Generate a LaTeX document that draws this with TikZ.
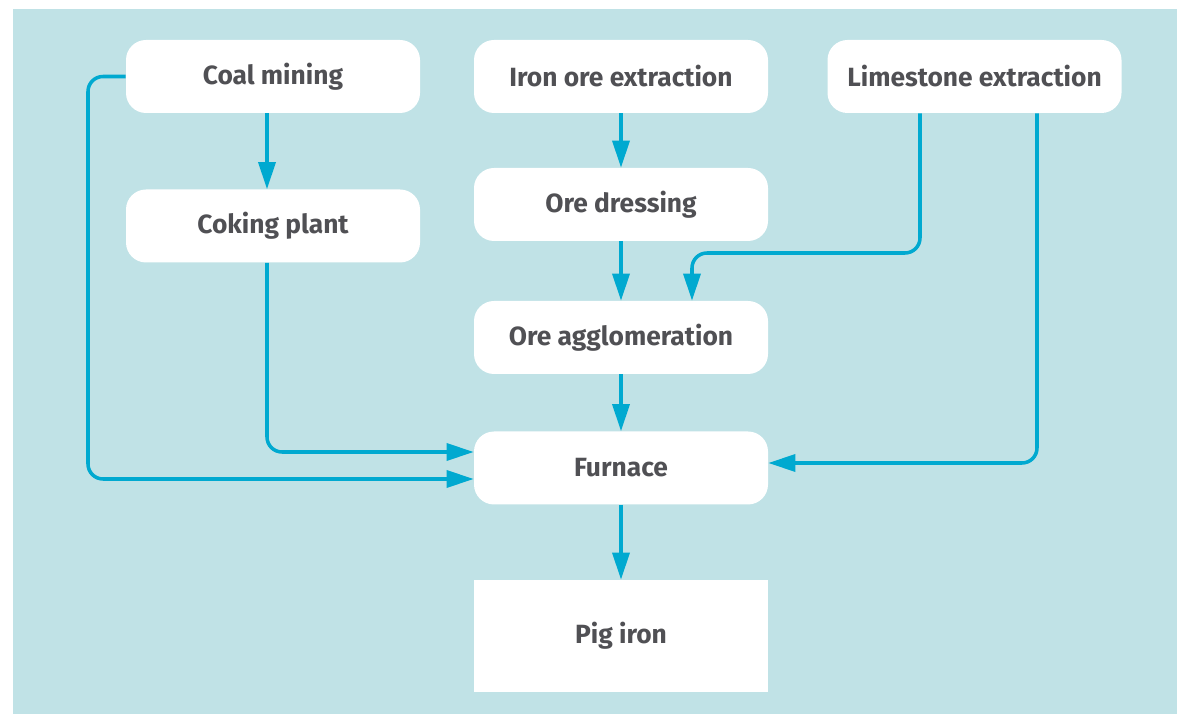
\documentclass[tikz,border=0pt]{standalone}
\usepackage{fontspec}
\setmainfont{Fira Sans}
\usetikzlibrary{arrows.meta,calc,positioning}
\definecolor{PanelTeal}{RGB}{192,226,230}
\definecolor{FlowCyan}{RGB}{0,169,208}
\definecolor{LabelGray}{RGB}{80,80,84}

\tikzset{
  stage/.style={fill=white, rounded corners=0.4cm, minimum width=5.88cm, minimum height=1.46cm,
    text=LabelGray, font=\fontsize{15}{17}\selectfont\bfseries},
  product/.style={stage, rounded corners=0pt, minimum height=2.24cm},
  flow/.style={-{Triangle[length=0.54cm, width=0.34cm]}, line width=2pt, FlowCyan, rounded corners=0.3cm}
}

\begin{document}
\begin{tikzpicture}
    \useasboundingbox (0,0) rectangle (23.54,14.28);
    \fill[PanelTeal] (0.26,0) rectangle (23.54,14.1);

    \node[stage] (coal) at (5.46,12.75) {Coal mining};
    \node[stage] (ironore) at (12.42,12.75) {Iron ore extraction};
    \node[stage] (lime) at (19.49,12.75) {Limestone extraction};
    \node[stage] (coking) at (5.46,9.76) {Coking plant};
    \node[stage] (dressing) at (12.42,10.19) {Ore dressing};
    \node[stage] (agglo) at (12.42,7.53) {Ore agglomeration};
    \node[stage] (furnace) at (12.42,4.92) {Furnace};
    \node[product] (pig) at (12.42,1.56) {Pig iron};

    % coal route
    \draw[flow] ([xshift=-0.12cm]coal.south) -- ([xshift=-0.12cm]coal.south |- coking.north);
    \draw[flow] (coal.west) -- (1.76,12.75) |- ([yshift=-0.22cm]furnace.west);
    \draw[flow] ([xshift=-0.12cm]coking.south) |- ([yshift=0.32cm]furnace.west);

    % ore route
    \draw[flow] (ironore) -- (dressing);
    \draw[flow] (dressing) -- (agglo);
    \draw[flow] (agglo) -- (furnace);
    \draw[flow] (furnace) -- (pig);

    % limestone route
    \draw[flow] ([xshift=-1.09cm]lime.south) |- (13.84,9.22) -- (13.84,9.22 |- agglo.north);
    \draw[flow] ([xshift=1.25cm]lime.south) |- ([yshift=0.1cm]furnace.east);
\end{tikzpicture}
\end{document}
